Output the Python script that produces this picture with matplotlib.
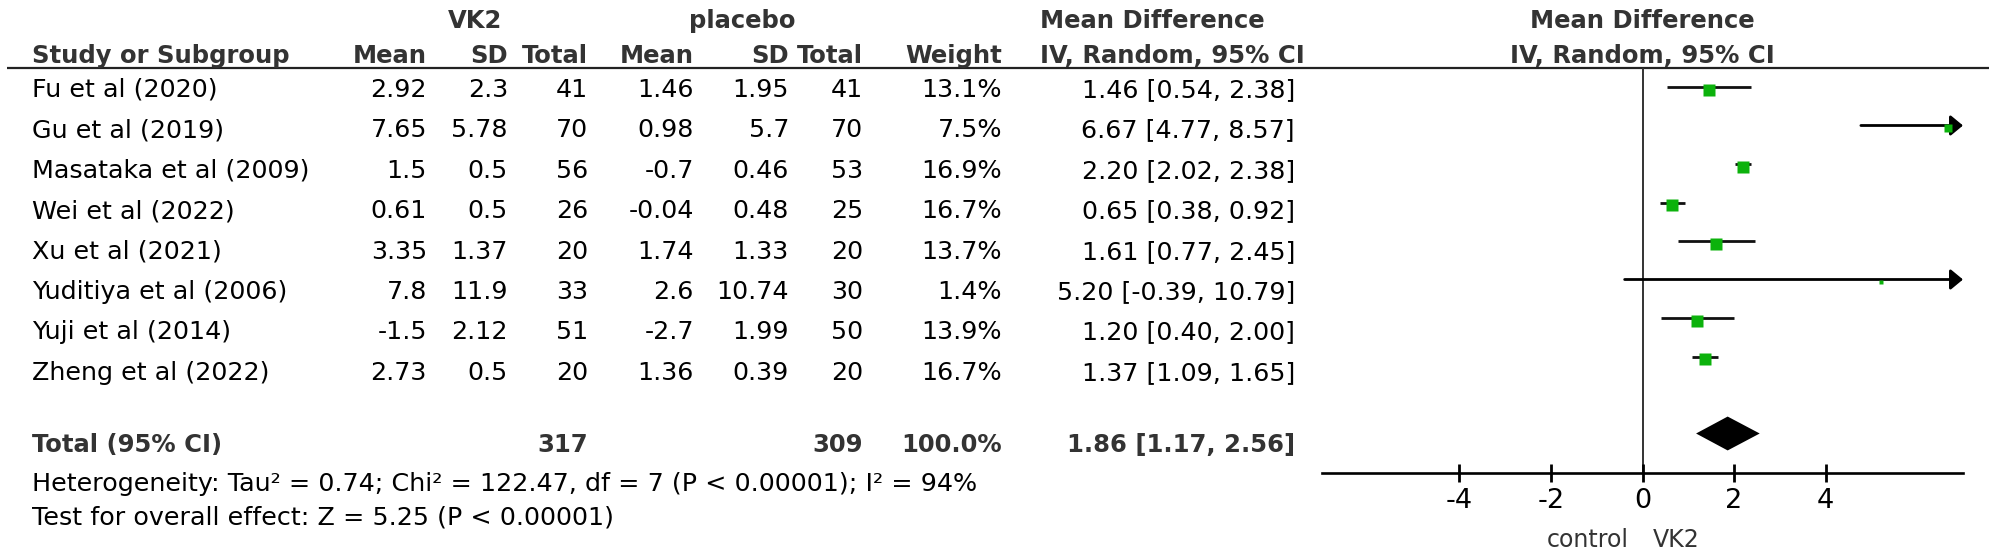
import matplotlib
matplotlib.use('Agg')
import matplotlib.pyplot as plt
import matplotlib.transforms as mtransforms
import numpy as np

plt.rcParams['font.family'] = ['DejaVu Sans']

# data
studies = ['Fu et al (2020)', 'Gu et al (2019)', 'Masataka et al (2009)', 'Wei et al (2022)',
           'Xu et al (2021)', 'Yuditiya et al (2006)', 'Yuji et al (2014)', 'Zheng et al (2022)']
vk2_mean = [2.92, 7.65, 1.5, 0.61, 3.35, 7.8, -1.5, 2.73]
vk2_sd = [2.3, 5.78, 0.5, 0.5, 1.37, 11.9, 2.12, 0.5]
vk2_n = [41, 70, 56, 26, 20, 33, 51, 20]
pl_mean = [1.46, 0.98, -0.7, -0.04, 1.74, 2.6, -2.7, 1.36]
pl_sd = [1.95, 5.7, 0.46, 0.48, 1.33, 10.74, 1.99, 0.39]
pl_n = [41, 70, 53, 25, 20, 30, 50, 20]
weight = [13.1, 7.5, 16.9, 16.7, 13.7, 1.4, 13.9, 16.7]
md = [1.46, 6.67, 2.20, 0.65, 1.61, 5.20, 1.20, 1.37]
ci_lo = [0.54, 4.77, 2.02, 0.38, 0.77, -0.39, 0.40, 1.09]
ci_hi = [2.38, 8.57, 2.38, 0.92, 2.45, 10.79, 2.00, 1.65]
total_weight = 100.0
pooled = [1.86, 1.17, 2.56]
het_text = 'Heterogeneity: Tau² = 0.74; Chi² = 122.47, df = 7 (P < 0.00001); I² = 94%'
test_text = 'Test for overall effect: Z = 5.25 (P < 0.00001)'
xticks = [-4, -2, 0, 2, 4]
xlim = (-7, 7)

W, H = 1996, 554
fig = plt.figure(figsize=(W / 100, H / 100), dpi=100)

# table part, laid out in pixels
ax_t = fig.add_axes([0, 0, 1, 1])
ax_t.set_xlim(0, W)
ax_t.set_ylim(H, 0)
ax_t.axis('off')

# forest part
ax_f = fig.add_axes([1322 / W, 0, 641 / W, 1])
ax_f.set_facecolor('none')
row0, drow = 87, 38.5
ax_f.set_xlim(*xlim)
ax_f.set_ylim((H - row0) / drow, -row0 / drow)
axis_row = (473 - row0) / drow

fs = 17.5     # bold headers
fn = 18.3     # normal text
hdr = '#333333'
col_r = [427, 508, 588, 694, 789, 863, 1002, 1295]
txt_y0, txt_dy = 97, 40.4

# headers
ax_t.text(475, 28, 'VK2', ha='center', fontsize=fs, fontweight='bold', color=hdr)
ax_t.text(742, 28, 'placebo', ha='center', fontsize=fs, fontweight='bold', color=hdr)
ax_t.text(1040, 28, 'Mean Difference', ha='left', fontsize=fs, fontweight='bold', color=hdr)
ax_t.text(32, 63, 'Study or Subgroup', ha='left', fontsize=fs, fontweight='bold', color=hdr)
for x, lab in zip(col_r[:7], ['Mean', 'SD', 'Total', 'Mean', 'SD', 'Total', 'Weight']):
    ax_t.text(x, 63, lab, ha='right', fontsize=fs, fontweight='bold', color=hdr)
ax_t.text(1040, 63, 'IV, Random, 95% CI', ha='left', fontsize=fs, fontweight='bold', color=hdr)
ax_t.plot([7, 1989], [68, 68], color='#222222', lw=1.6, solid_capstyle='butt')

blend = mtransforms.blended_transform_factory(ax_f.transData, ax_t.transData)
ax_t.text(0, 28, 'Mean Difference', transform=blend, ha='center', fontsize=fs,
          fontweight='bold', color=hdr)
ax_t.text(0, 63, 'IV, Random, 95% CI', transform=blend, ha='center', fontsize=fs,
          fontweight='bold', color=hdr)

# study rows
for i, s in enumerate(studies):
    y = txt_y0 + i * txt_dy
    ax_t.text(32, y, s, ha='left', fontsize=fn, color='black')
    vals = [f'{vk2_mean[i]:g}', f'{vk2_sd[i]:g}', str(vk2_n[i]),
            f'{pl_mean[i]:g}', f'{pl_sd[i]:g}', str(pl_n[i]),
            f'{weight[i]:.1f}%', f'{md[i]:.2f} [{ci_lo[i]:.2f}, {ci_hi[i]:.2f}]']
    for x, v in zip(col_r, vals):
        ax_t.text(x, y, v, ha='right', fontsize=fn, color='black')

# total row
ax_t.text(32, 452, 'Total (95% CI)', ha='left', fontsize=fs, fontweight='bold', color=hdr)
ax_t.text(col_r[2], 452, str(sum(vk2_n)), ha='right', fontsize=fs, fontweight='bold', color=hdr)
ax_t.text(col_r[5], 452, str(sum(pl_n)), ha='right', fontsize=fs, fontweight='bold', color=hdr)
ax_t.text(col_r[6], 452, f'{total_weight:.1f}%', ha='right', fontsize=fs, fontweight='bold', color=hdr)
ax_t.text(col_r[7], 452, f'{pooled[0]:.2f} [{pooled[1]:.2f}, {pooled[2]:.2f}]', ha='right',
          fontsize=fs, fontweight='bold', color=hdr)
ax_t.text(32, 491, het_text, ha='left', fontsize=fn, color='black')
ax_t.text(32, 524, test_text, ha='left', fontsize=fn, color='black')

# forest plot marks
rows = np.arange(len(studies))
ax_f.vlines(0, -0.49, axis_row, color='#333333', lw=1.4, zorder=1)
for i in rows:
    lo, hi = ci_lo[i], min(ci_hi[i], xlim[1])
    if ci_hi[i] > xlim[1]:
        ax_f.annotate('', xy=(xlim[1], i), xytext=(lo, i), annotation_clip=False,
                      arrowprops=dict(arrowstyle='-|>,head_length=0.75,head_width=0.62',
                                      lw=2, color='black', shrinkA=0, shrinkB=0,
                                      mutation_scale=10))
    else:
        ax_f.plot([lo, hi], [i, i], color='#111111', lw=2, solid_capstyle='butt', zorder=2)
    side = max(5, 3.1 * np.sqrt(weight[i])) * 0.72
    ax_f.plot(md[i], i + 0.07, marker='s', ms=side, color='#0cb20c', mec='none', zorder=3,
              clip_on=False)

diamond_row = 9
h = 0.44
ax_f.fill([pooled[1], pooled[0], pooled[2], pooled[0]],
          [diamond_row, diamond_row - h, diamond_row, diamond_row + h], color='black', lw=0)

# axis
for sp in ['top', 'left', 'right']:
    ax_f.spines[sp].set_visible(False)
ax_f.spines['bottom'].set_position(('data', axis_row))
ax_f.spines['bottom'].set_linewidth(1.9)
ax_f.set_yticks([])
ax_f.set_xticks(xticks)
ax_f.set_xticklabels([str(t) for t in xticks])
ax_f.tick_params(axis='x', direction='inout', length=13.5, width=2, labelsize=19.5, pad=4)
ax_f.text(-0.3, 547, 'control', transform=blend, ha='right', fontsize=17, color=hdr)
ax_f.text(0.22, 547, 'VK2', transform=blend, ha='left', fontsize=17, color=hdr)

fig.savefig('out.png', dpi=100)
